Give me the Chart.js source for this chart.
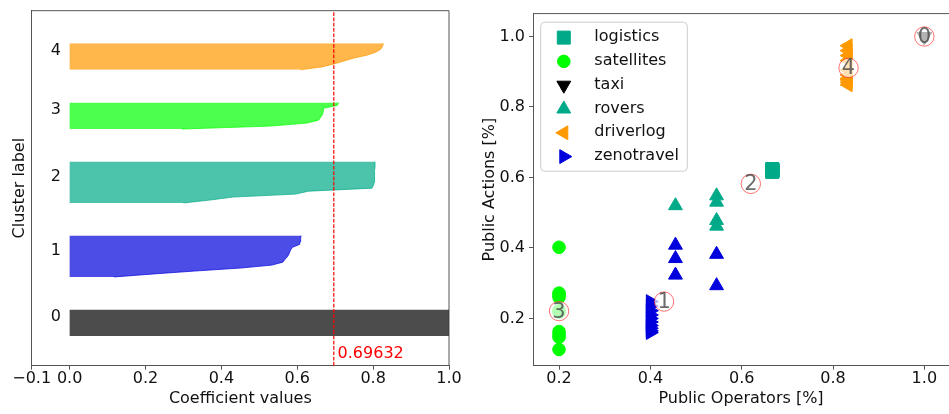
<!DOCTYPE html>
<html>
<head>
<meta charset="utf-8">
<title>Silhouette analysis</title>
<script src="https://cdn.jsdelivr.net/npm/chart.js@4/dist/chart.umd.min.js"></script>
<style>
  html, body { margin: 0; padding: 0; background: #fff; }
  #wrap { position: relative; width: 949px; height: 414px; overflow: hidden; }
  #silhouetteChart { position: absolute; left: 0; top: 0; }
  #scatterChart { position: absolute; left: 470px; top: 0; }
</style>
</head>
<body>
<div id="wrap">
  <canvas id="silhouetteChart" width="470" height="414"></canvas>
  <canvas id="scatterChart" width="519" height="414"></canvas>
</div>
<script>
// silhouette coefficients of each cluster, sorted ascending
const clusterLabels = ["0", "1", "2", "3", "4"];
const silhouette0 = [1.0, 1.0, 1.0, 1.0, 1.0, 1.0, 1.0, 1.0, 1.0, 1.0];
const silhouette1 = [0.117, 0.22, 0.33, 0.45, 0.533, 0.562, 0.568, 0.575, 0.579, 0.582, 0.587, 0.606, 0.608, 0.609, 0.61];
const silhouette2 = [0.3, 0.37, 0.43, 0.595, 0.63, 0.797, 0.801, 0.803, 0.803, 0.804, 0.804, 0.804, 0.805, 0.805, 0.805];
const silhouette3 = [0.296, 0.53, 0.625, 0.656, 0.662, 0.667, 0.668, 0.669, 0.706, 0.709];
const silhouette4 = [0.608, 0.665, 0.697, 0.723, 0.75, 0.785, 0.808, 0.82, 0.825, 0.827];
const meanScore = 0.69632;
const coefficientTicks = [-0.1, 0.0, 0.2, 0.4, 0.6, 0.8, 1.0];

// problems per domain: share of public operators / public actions, and cluster id
const logisticsOps = [0.667, 0.667, 0.667, 0.667, 0.667, 0.667, 0.667, 0.667, 0.667, 0.667];
const logisticsActs = [0.616, 0.617, 0.618, 0.619, 0.62, 0.62, 0.621, 0.622, 0.623, 0.624];
const logisticsCluster = [2, 2, 2, 2, 2, 2, 2, 2, 2, 2];

const satellitesOps = [0.2, 0.2, 0.2, 0.2, 0.2, 0.2, 0.2, 0.2, 0.2, 0.2];
const satellitesActs = [0.402, 0.272, 0.268, 0.26, 0.222, 0.218, 0.163, 0.155, 0.147, 0.112];
const satellitesCluster = [3, 3, 3, 3, 3, 3, 3, 3, 3, 3];

const taxiOps = [1.0, 1.0, 1.0, 1.0, 1.0, 1.0, 1.0, 1.0, 1.0, 1.0];
const taxiActs = [1.0, 1.0, 1.0, 1.0, 1.0, 1.0, 1.0, 1.0, 1.0, 1.0];
const taxiCluster = [0, 0, 0, 0, 0, 0, 0, 0, 0, 0];

const roversOps = [0.455, 0.545, 0.545, 0.545, 0.545, 0.455, 0.455, 0.455, 0.545, 0.545];
const roversActs = [0.52, 0.548, 0.53, 0.478, 0.462, 0.408, 0.37, 0.323, 0.382, 0.293];
const roversCluster = [2, 2, 2, 2, 2, 1, 1, 1, 1, 1];

const driverlogOps = [0.833, 0.833, 0.833, 0.833, 0.833, 0.833, 0.833, 0.833, 0.833, 0.833];
const driverlogActs = [0.974, 0.96, 0.946, 0.932, 0.905, 0.891, 0.881, 0.877, 0.87, 0.863];
const driverlogCluster = [4, 4, 4, 4, 4, 4, 4, 4, 4, 4];

const zenotravelOps = [0.4, 0.4, 0.4, 0.4, 0.4, 0.4, 0.4, 0.4, 0.4, 0.4];
const zenotravelActs = [0.248, 0.235, 0.222, 0.21, 0.2, 0.19, 0.18, 0.172, 0.165, 0.16];
const zenotravelCluster = [1, 1, 1, 1, 1, 1, 1, 1, 1, 1];

const centersOps = [1.0, 0.43, 0.62, 0.2, 0.834];
const centersActs = [1.0, 0.248, 0.582, 0.221, 0.911];
const scatterTicks = [0.2, 0.4, 0.6, 0.8, 1.0];

// nipy_spectral samples for 5 clusters
const clusterColors = ["#000000", "#0000dd", "#00aa88", "#00ff00", "#ff9900"];

const textColor = "#111111";
const axisColor = "#555555";

document.addEventListener("DOMContentLoaded", () => {
  Chart.defaults.font.family = "'DejaVu Sans', sans-serif";
  Chart.defaults.font.size = 16;
  Chart.defaults.color = textColor;

  function withAlpha(hex, a) {
    const n = parseInt(hex.slice(1), 16);
    return `rgba(${(n >> 16) & 255}, ${(n >> 8) & 255}, ${n & 255}, ${a})`;
  }

  function formatTick(v) {
    const s = Math.abs(v).toFixed(1);
    return v < 0 ? "\u2212" + s : s;
  }

  // top (and optionally right) spine, Chart.js only draws the axis borders
  const frameLines = {
    id: "frameLines",
    afterDraw(chart, args, opts) {
      const { ctx, chartArea: a } = chart;
      ctx.save();
      ctx.strokeStyle = axisColor;
      ctx.lineWidth = 1;
      ctx.beginPath();
      ctx.moveTo(a.left, a.top);
      ctx.lineTo(a.right, a.top);
      if (opts.right) {
        ctx.moveTo(a.right, a.top);
        ctx.lineTo(a.right, a.bottom);
      }
      ctx.stroke();
      ctx.restore();
    },
  };

  function drawSilhouette() {
    const groups = [silhouette0, silhouette1, silhouette2, silhouette3, silhouette4];
    const labelRows = [];
    let yLower = 10;
    const datasets = groups.map((vals, k) => {
      const points = vals.map((v, i) => ({ x: v, y: yLower + i }));
      labelRows.push(yLower + vals.length / 2);
      yLower += vals.length + 10;
      return {
        data: points,
        fill: { value: 0 },
        backgroundColor: withAlpha(clusterColors[k], 0.7),
        borderColor: withAlpha(clusterColors[k], 0.7),
        borderWidth: 1,
        pointRadius: 0,
        tension: 0,
        order: 1,
      };
    });
    const yMax = yLower;

    datasets.push({
      data: [{ x: meanScore, y: 0 }, { x: meanScore, y: yMax }],
      fill: false,
      borderColor: "#ff0000",
      borderWidth: 1.2,
      borderDash: [3.7, 1.6],
      pointRadius: 0,
      order: 0,
    });

    const silhouetteText = {
      id: "silhouetteText",
      afterDatasetsDraw(chart) {
        const { ctx, scales: { x, y } } = chart;
        ctx.save();
        ctx.font = "16px 'DejaVu Sans'";
        ctx.textAlign = "left";
        ctx.textBaseline = "alphabetic";
        ctx.fillStyle = textColor;
        labelRows.forEach((row, i) => {
          ctx.fillText(clusterLabels[i], x.getPixelForValue(-0.05), y.getPixelForValue(row));
        });
        ctx.fillStyle = "#ff0000";
        ctx.fillText(meanScore.toFixed(5), x.getPixelForValue(meanScore + 0.01), y.getPixelForValue(2.5));
        ctx.restore();
      },
    };

    new Chart(document.getElementById("silhouetteChart"), {
      type: "line",
      data: { datasets },
      plugins: [frameLines, silhouetteText],
      options: {
        indexAxis: "y",
        responsive: false,
        animation: false,
        events: [],
        layout: { padding: { top: 10.7, right: 21, left: 0, bottom: 0 } },
        plugins: {
          legend: { display: false },
          tooltip: { enabled: false },
          frameLines: { right: true },
        },
        scales: {
          x: {
            type: "linear",
            min: -0.1,
            max: 1.0,
            afterBuildTicks: (s) => { s.ticks = coefficientTicks.map((v) => ({ value: v })); },
            afterFit: (s) => { s.height = 48.3; },
            ticks: { autoSkip: false, maxRotation: 0, minRotation: 0, padding: 0, callback: (v) => formatTick(v) },
            grid: { drawOnChartArea: false, tickLength: 4, color: axisColor },
            border: { color: axisColor, width: 1 },
            title: { display: true, text: "Coefficient values", padding: { top: 0, bottom: 6 } },
          },
          y: {
            type: "linear",
            min: 0,
            max: yMax,
            afterFit: (s) => { s.width = 31.7; },
            ticks: { display: false },
            grid: { display: false },
            border: { color: axisColor, width: 1 },
            title: { display: true, text: "Cluster label", padding: { top: 10, bottom: 0 } },
          },
        },
      },
    });
  }

  function drawScatter() {
    const domains = [
      { label: "logistics", ops: logisticsOps, acts: logisticsActs, cluster: logisticsCluster, style: "rect", rotation: 0, radius: 9.2 },
      { label: "satellites", ops: satellitesOps, acts: satellitesActs, cluster: satellitesCluster, style: "circle", rotation: 0, radius: 6.3 },
      { label: "taxi", ops: taxiOps, acts: taxiActs, cluster: taxiCluster, style: "triangle", rotation: 180, radius: 8 },
      { label: "rovers", ops: roversOps, acts: roversActs, cluster: roversCluster, style: "triangle", rotation: 0, radius: 8 },
      { label: "driverlog", ops: driverlogOps, acts: driverlogActs, cluster: driverlogCluster, style: "triangle", rotation: -90, radius: 8 },
      { label: "zenotravel", ops: zenotravelOps, acts: zenotravelActs, cluster: zenotravelCluster, style: "triangle", rotation: 90, radius: 8 },
    ];

    const datasets = domains.map((d) => {
      const colors = d.cluster.map((c) => clusterColors[c]);
      return {
        label: d.label,
        data: d.ops.map((x, i) => ({ x, y: d.acts[i] })),
        pointStyle: d.style,
        pointRotation: d.rotation,
        pointRadius: d.radius,
        pointBackgroundColor: colors,
        pointBorderColor: colors,
        pointBorderWidth: 1,
        order: 1,
      };
    });

    datasets.push({
      data: centersOps.map((x, i) => ({ x, y: centersActs[i] })),
      pointStyle: "circle",
      pointRadius: 9.7,
      pointBackgroundColor: "rgba(255, 255, 255, 0.7)",
      pointBorderColor: "rgba(255, 0, 0, 0.55)",
      pointBorderWidth: 1,
      order: 0,
    });
    const centerIndex = datasets.length - 1;

    const centerNumbers = {
      id: "centerNumbers",
      afterDatasetsDraw(chart) {
        const { ctx } = chart;
        const meta = chart.getDatasetMeta(centerIndex);
        ctx.save();
        ctx.font = "21px 'DejaVu Sans'";
        ctx.textAlign = "center";
        ctx.textBaseline = "middle";
        ctx.fillStyle = "rgba(70, 70, 70, 0.8)";
        meta.data.forEach((pt, i) => ctx.fillText(clusterLabels[i], pt.x, pt.y + 1));
        ctx.restore();
      },
    };

    const domainLegend = {
      id: "domainLegend",
      afterDatasetsDraw(chart) {
        const { ctx, chartArea: a } = chart;
        const items = chart.data.datasets.filter((d) => d.label);
        const left = a.left + 7.7;
        const top = a.top + 8.6;
        ctx.save();
        ctx.beginPath();
        if (ctx.roundRect) ctx.roundRect(left, top, 146.6, 149, 4);
        else ctx.rect(left, top, 146.6, 149);
        ctx.fillStyle = "rgba(255, 255, 255, 0.8)";
        ctx.fill();
        ctx.strokeStyle = "#cccccc";
        ctx.lineWidth = 1;
        ctx.stroke();
        ctx.font = "16px 'DejaVu Sans'";
        ctx.textAlign = "left";
        ctx.textBaseline = "alphabetic";
        items.forEach((d, i) => {
          const cy = top + 15.4 + i * 23.8;
          ctx.fillStyle = d.pointBackgroundColor[0];
          ctx.strokeStyle = d.pointBorderColor[0];
          ctx.lineWidth = 1;
          Chart.helpers.drawPoint(ctx, {
            pointStyle: d.pointStyle,
            rotation: d.pointRotation,
            radius: d.pointRadius,
            borderWidth: 1,
          }, left + 23.1, cy);
          ctx.fillStyle = textColor;
          ctx.fillText(d.label, left + 53.6, cy + 3.6);
        });
        ctx.restore();
      },
    };

    // the axes run on past the right edge of the page, so the canvas is wider than the visible part
    new Chart(document.getElementById("scatterChart"), {
      type: "scatter",
      data: { datasets },
      plugins: [frameLines, domainLegend, centerNumbers],
      options: {
        responsive: false,
        animation: false,
        events: [],
        layout: { padding: { top: 10.7, right: 40, left: 0, bottom: 0 } },
        plugins: {
          legend: { display: false },
          tooltip: { enabled: false },
          frameLines: { right: false },
        },
        scales: {
          x: {
            type: "linear",
            min: 0.143,
            max: 1.054,
            afterBuildTicks: (s) => { s.ticks = scatterTicks.map((v) => ({ value: v })); },
            afterFit: (s) => { s.height = 48.3; },
            ticks: { autoSkip: false, maxRotation: 0, minRotation: 0, padding: 0, callback: (v) => formatTick(v) },
            grid: { drawOnChartArea: false, tickLength: 4, color: axisColor },
            border: { color: axisColor, width: 1 },
            title: { display: true, text: "Public Operators [%]", padding: { top: 0, bottom: 6 } },
          },
          y: {
            type: "linear",
            min: 0.066,
            max: 1.065,
            afterBuildTicks: (s) => { s.ticks = scatterTicks.map((v) => ({ value: v })); },
            afterFit: (s) => { s.width = 63; },
            ticks: { autoSkip: false, padding: 4, callback: (v) => formatTick(v) },
            grid: { drawOnChartArea: false, tickLength: 4, color: axisColor },
            border: { color: axisColor, width: 1 },
            title: { display: true, text: "Public Actions [%]", padding: { top: 10, bottom: 0 } },
          },
        },
      },
    });
  }

  drawSilhouette();
  drawScatter();
});
</script>
</body>
</html>
